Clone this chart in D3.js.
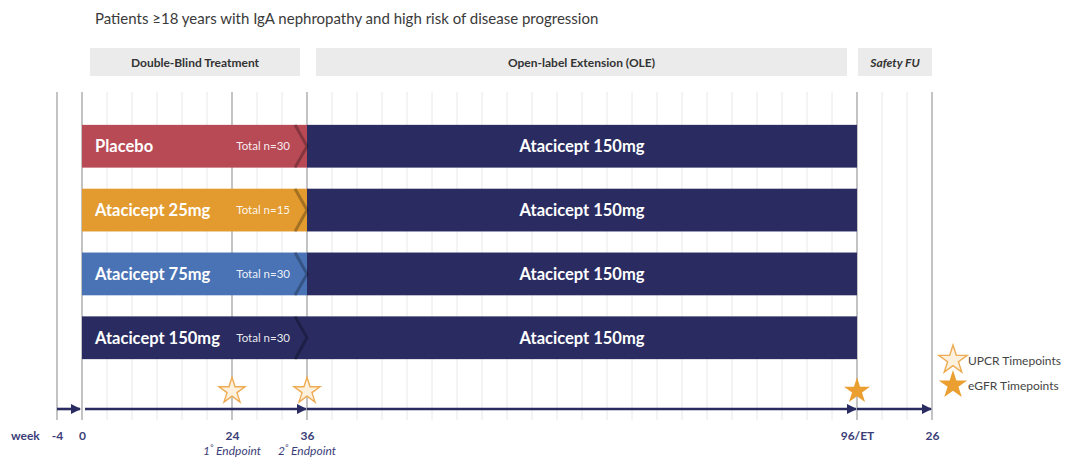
<!DOCTYPE html>
<html><head><meta charset="utf-8">
<script src="https://cdn.jsdelivr.net/npm/d3@7"></script>
<style>body{margin:0;background:#fff}svg{display:block}text{font-family:Lato,"Open Sans",sans-serif}</style>
</head><body><svg id="c" width="1066" height="460"></svg>
<script>
// ---- data ----
const title = "Patients \u226518 years with IgA nephropathy and high risk of disease progression";
const phaseNames = ["Double-Blind Treatment", "Open-label Extension (OLE)", "Safety FU"];
const phaseItalic = [false, false, true];
const phaseFrom = [1.32, 10.36, 32.04];
const phaseTo = [9.72, 31.6, 35];
const arms = ["Placebo", "Atacicept 25mg", "Atacicept 75mg", "Atacicept 150mg"];
const armN = [30, 15, 30, 30];
const armColors = ["#b84a56", "#e39b2f", "#4a73b6", "#2a2c61"];
const oleLabel = "Atacicept 150mg";
const blindFrom = 1, blindTo = 10, oleTo = 32;
const tickLabels = ["-4", "0", "24", "36", "96/ET", "26"];
const tickSlots = [0, 1, 7, 10, 32, 35];
const endpointLabels = [["1", "\u00b0", " Endpoint"], ["2", "\u00b0", " Endpoint"]];
const endpointSlots = [7, 10];
const upcrSlots = [7, 10];
const egfrSlots = [32];
const nSlots = 35;

// ---- drawing ----
const svg = d3.select("#c");
const x = d3.scaleLinear().domain([0, nSlots]).range([57, 932]);
const y = d3.scaleBand().domain(arms).range([114, 370]).paddingInner(0.33).paddingOuter(0.17);
const navy = "#2a2c61";

svg.append("text").attr("x", 95).attr("y", 24).attr("font-size", 15).attr("fill", "#3a3a3a").text(title);

// header boxes
const hdr = svg.append("g");
phaseNames.forEach((n, i) => {
  hdr.append("rect").attr("x", x(phaseFrom[i])).attr("y", 48).attr("width", x(phaseTo[i]) - x(phaseFrom[i])).attr("height", 28).attr("fill", "#ebebeb");
  hdr.append("text").attr("x", (x(phaseFrom[i]) + x(phaseTo[i])) / 2).attr("y", 66.5).attr("text-anchor", "middle")
    .attr("font-size", 12).attr("font-weight", 700).attr("font-style", phaseItalic[i] ? "italic" : "normal").attr("fill", "#333").text(n);
});

// gridlines
const grid = svg.append("g");
grid.selectAll("line.minor").data(d3.range(0, nSlots + 1).filter(s => !tickSlots.includes(s))).join("line")
  .attr("x1", d => x(d)).attr("x2", d => x(d)).attr("y1", 92).attr("y2", 420).attr("stroke", "#e8e8e8").attr("stroke-width", 1);
grid.selectAll("line.major").data(tickSlots).join("line")
  .attr("x1", d => x(d)).attr("x2", d => x(d)).attr("y1", 92).attr("y2", 420).attr("stroke", "#b5b5b5").attr("stroke-width", 1.6);

// bars
const bars = svg.append("g");
arms.forEach((a, i) => {
  const y0 = y(a), h = y.bandwidth();
  bars.append("rect").attr("x", x(blindTo)).attr("y", y0).attr("width", x(oleTo) - x(blindTo)).attr("height", h).attr("fill", navy);
  bars.append("rect").attr("x", x(blindFrom)).attr("y", y0).attr("width", x(blindTo) - x(blindFrom)).attr("height", h).attr("fill", armColors[i]);
  const cx = x(blindTo);
  bars.append("path").attr("d", `M${cx - 12},${y0} L${cx},${y0 + h / 2} L${cx - 12},${y0 + h}`)
    .attr("fill", "none").attr("stroke", "#000").attr("stroke-opacity", 0.28).attr("stroke-width", 3);
  bars.append("text").attr("x", x(blindFrom) + 13).attr("y", y0 + h / 2 + 6).attr("font-size", 16.5).attr("font-weight", 700).attr("fill", "#fff").text(a);
  bars.append("text").attr("x", x(blindTo) - 17).attr("y", y0 + h / 2 + 4).attr("text-anchor", "end").attr("font-size", 11.5).attr("fill", "#fff").attr("fill-opacity", 0.92).text("Total n=" + armN[i]);
  bars.append("text").attr("x", (x(blindTo) + x(oleTo)) / 2).attr("y", y0 + h / 2 + 6).attr("text-anchor", "middle").attr("font-size", 16.5).attr("font-weight", 700).attr("fill", "#fff").text(oleLabel);
});

// timeline arrows
const defs = svg.append("defs");
defs.append("marker").attr("id", "ah").attr("viewBox", "0 0 10 10").attr("refX", 9).attr("refY", 5)
  .attr("markerWidth", 4).attr("markerHeight", 4).attr("orient", "auto")
  .append("path").attr("d", "M0,0 L10,5 L0,10 Z").attr("fill", navy);
const ay = 409;
const segs = [[tickSlots[0], tickSlots[1], 0, -2], [tickSlots[1], tickSlots[3], 3, -1], [tickSlots[3], tickSlots[4], 0, -1], [tickSlots[4], tickSlots[5], 0, -1]];
svg.append("g").selectAll("line").data(segs).join("line")
  .attr("x1", d => x(d[0]) + d[2]).attr("x2", d => x(d[1]) + d[3]).attr("y1", ay).attr("y2", ay)
  .attr("stroke", navy).attr("stroke-width", 2.6).attr("marker-end", "url(#ah)");

// stars
const star = d3.symbol().type(d3.symbolStar).size(210);
const starY = 390;
svg.append("g").selectAll("path").data(upcrSlots).join("path").attr("d", star)
  .attr("transform", d => `translate(${x(d)},${starY + 1})`).attr("fill", "#fdf0dc").attr("stroke", "#eeab52").attr("stroke-width", 1.4);
svg.append("g").selectAll("path").data(egfrSlots).join("path").attr("d", star)
  .attr("transform", d => `translate(${x(d)},${starY + 1})`).attr("fill", "#eb9f30");

// axis labels
const axisG = svg.append("g").attr("transform", "translate(0,442)");
const ax = d3.axisBottom(x).tickValues(tickSlots).tickFormat((d, i) => tickLabels[i]).tickSize(0).tickPadding(0);
axisG.call(ax);
axisG.select(".domain").remove();
axisG.selectAll("text").attr("font-family", "Lato, sans-serif").attr("font-size", 12).attr("font-weight", 700).attr("fill", "#3b3e78").attr("dy", "-0.2em");
svg.append("text").attr("x", 11).attr("y", 442).attr("font-size", 12).attr("font-weight", 700).attr("fill", "#3b3e78").attr("dy", "-0.2em").text("week");

const ep = svg.append("g");
endpointLabels.forEach((l, i) => {
  const t = ep.append("text").attr("x", x(endpointSlots[i])).attr("y", 455).attr("text-anchor", "middle")
    .attr("font-size", 12).attr("font-style", "italic").attr("fill", "#3b3e78");
  t.append("tspan").text(l[0]);
  t.append("tspan").attr("font-size", 8).attr("dy", -5).text(l[1]);
  t.append("tspan").attr("dy", 5).text(l[2]);
});

// legend
const legItems = [["UPCR Timepoints", "#fdf0dc", "#eeab52"], ["eGFR Timepoints", "#eb9f30", "none"]];
const leg = svg.append("g").attr("transform", "translate(953,360)");
legItems.forEach((d, i) => {
  leg.append("path").attr("d", d3.symbol().type(d3.symbolStar).size(250)).attr("transform", `translate(0,${i * 25})`).attr("fill", d[1]).attr("stroke", d[2]).attr("stroke-width", 1.4);
  leg.append("text").attr("x", 15).attr("y", i * 25 + 4.5).attr("font-size", 12).attr("fill", "#444").text(d[0]);
});
</script></body></html>
